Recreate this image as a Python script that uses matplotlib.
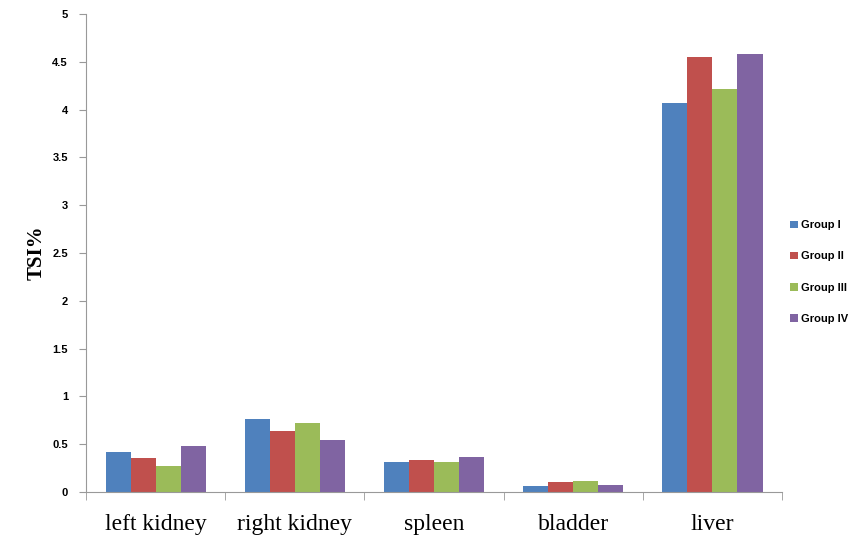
import numpy as np
import matplotlib.pyplot as plt

# TSI% per organ for each treatment group
organs = ["left kidney", "right kidney", "spleen", "bladder", "liver"]
groups = ["Group I", "Group II", "Group III", "Group IV"]
group_1 = [0.42, 0.76, 0.31, 0.06, 4.07]
group_2 = [0.36, 0.64, 0.33, 0.10, 4.55]
group_3 = [0.27, 0.72, 0.31, 0.12, 4.22]
group_4 = [0.48, 0.54, 0.37, 0.07, 4.58]
y_ticks = [0, 0.5, 1, 1.5, 2, 2.5, 3, 3.5, 4, 4.5, 5]

colors = ["#4F81BD", "#C0504D", "#9BBB59", "#8064A2"]
series = [group_1, group_2, group_3, group_4]

fig = plt.figure(figsize=(8.62, 5.44), dpi=100)
ax = fig.add_axes([0.0998, 0.0956, 0.8074, 0.8786])

x = np.arange(len(organs))
width = 0.18
for i, (vals, c, name) in enumerate(zip(series, colors, groups)):
    ax.bar(x + (i - 1.5) * width, vals, width, color=c, label=name)

ax.set_xlim(-0.5, len(organs) - 0.5)
ax.set_ylim(0, 5)
ax.set_yticks(y_ticks)
ax.set_yticklabels([f"{t:g}" for t in y_ticks], fontsize=8, fontweight="bold",
                   family="Liberation Sans")

# category labels centred, tick marks on the category boundaries
ax.set_xticks(x)
ax.set_xticklabels(organs, fontsize=17, family="Liberation Serif")
ax.tick_params(axis="x", which="major", length=0, pad=16)
ax.set_xticks(np.arange(len(organs) + 1) - 0.5, minor=True)
ax.tick_params(axis="x", which="minor", length=6, color="#999999")
ax.tick_params(axis="y", length=5, color="#999999", pad=8)

for side in ["top", "right"]:
    ax.spines[side].set_visible(False)
for side in ["left", "bottom"]:
    ax.spines[side].set_color("#999999")

ax.set_ylabel("TSI%", fontsize=15, fontweight="bold", family="Liberation Serif",
              labelpad=4)

fig.legend(loc="center left", bbox_to_anchor=(0.905, 0.50), frameon=False,
           prop={"size": 8, "weight": "bold", "family": "Liberation Sans"},
           handlelength=0.7, handleheight=0.7, handletextpad=0.3,
           labelspacing=1.9)

fig.savefig("out.png", dpi=100)
